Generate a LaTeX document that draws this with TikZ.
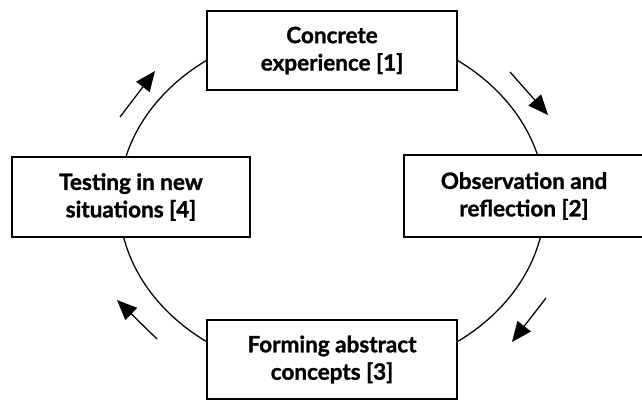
\documentclass[tikz,border=0pt]{standalone}
\usepackage{fontspec}
\setmainfont{Lato}[BoldFeatures={FakeBold=1.2}]
\usetikzlibrary{arrows.meta}

\begin{document}
\begin{tikzpicture}[x=0.025cm, y=-0.025cm]
\useasboundingbox (0,0) rectangle (642,402);

% the cycle
\coordinate (hub) at (332, 201);
\draw [line width=0.9pt] (hub) ellipse [x radius=213, y radius=174];

\begin{scope}[every node/.style={rectangle, draw, line width=1.1pt, fill=white, align=center, inner sep=0pt,
                                 font=\bfseries\fontsize{16}{19.5}\selectfont}]
    \node (ce) at (332, 50.5) [minimum width=6.25cm, minimum height=1.98cm] {Concrete\\experience [1]};
    \node (or) at (524, 196) [minimum width=6cm, minimum height=2.05cm] {Observation and\\reflection [2]};
    \node (fa) at (332, 359.5) [minimum width=6.25cm, minimum height=1.98cm] {Forming abstract\\concepts [3]};
    \node (tn) at (131, 197) [minimum width=5.95cm, minimum height=2cm] {Testing in new\\situations [4]};
\end{scope}

\begin{scope}[>={Triangle[length=0.5cm, width=0.42cm]},
              every edge/.style={draw, line width=0.9pt}]
    \coordinate (s1) at (510, 72);
    \coordinate (e1) at (548, 115);
    \coordinate (s2) at (546, 298);
    \coordinate (e2) at (512, 342);
    \coordinate (s3) at (157, 339);
    \coordinate (e3) at (117, 300);
    \coordinate (s4) at (120, 117);
    \coordinate (e4) at (155, 71);

    \path [->] (s1) edge node {} (e1);
    \path [->] (s2) edge node {} (e2);
    \path [->] (s3) edge node {} (e3);
    \path [->] (s4) edge node {} (e4);
\end{scope}

\end{tikzpicture}
\end{document}
